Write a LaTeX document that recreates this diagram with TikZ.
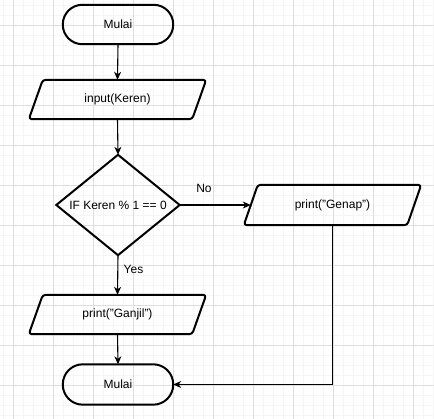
\documentclass[tikz,border=0pt]{standalone}
\usepackage{fontspec}
\setmainfont{Liberation Sans}
\usetikzlibrary{arrows.meta}
\definecolor{minorgrid}{RGB}{245,245,245}
\definecolor{majorgrid}{RGB}{222,222,222}
\tikzset{
  holder/.style={rectangle, inner sep=0pt, minimum width=#1, font=\fontsize{12}{14}\selectfont, text=black},
  shapeline/.style={draw=black, line width=2pt, line join=round},
  conn/.style={draw=black, line width=1.1pt, -{Stealth[length=8pt,width=7pt,inset=2.5pt]}},
  lbl/.style={font=\fontsize{12}{14}\selectfont, text=black, inner sep=0pt},
}
\begin{document}
\begin{tikzpicture}[x=1pt,y=-1pt]
\useasboundingbox (0,0) rectangle (434,419);
\fill[white] (0,0) rectangle (434,419);
% grid
\foreach \gx in {3,13,...,433} \draw[minorgrid, line width=0.8pt] (\gx,0) -- (\gx,419);
\foreach \gy in {5,15,...,415} \draw[minorgrid, line width=0.8pt] (0,\gy) -- (434,\gy);
\foreach \gx in {13,53,...,413} \draw[majorgrid, line width=0.8pt] (\gx,0) -- (\gx,419);
\foreach \gy in {25,65,...,385} \draw[majorgrid, line width=0.8pt] (0,\gy) -- (434,\gy);

% nodes
\node[holder=110pt, minimum height=39pt] (start) at (118,24.5) {Mulai};
\node[holder=177pt, minimum height=39pt] (inp) at (117.5,99.5) {input(Keren)};
\node[holder=123pt, minimum height=100pt] (dec) at (118,205) {IF Keren \% 1 == 0};
\node[holder=177pt, minimum height=40pt] (gen) at (332.5,205) {print("Genap")};
\node[holder=177pt, minimum height=39pt] (gan) at (117.5,314.5) {print("Ganjil")};
\node[holder=110pt, minimum height=40pt] (fin) at (118,384.5) {Mulai};

% shapes
\draw[shapeline, rounded corners=19.5pt] (start.south west) rectangle (start.north east);
\draw[shapeline, rounded corners=20pt] (fin.south west) rectangle (fin.north east);
\foreach \p in {inp,gan,gen}{
  \draw[shapeline, rounded corners=3pt] ([xshift=14pt]\p.north west) -- (\p.north east) -- ([xshift=-14pt]\p.south east) -- (\p.south west) -- cycle;
}
\draw[shapeline, line join=miter] (dec.north) -- (dec.east) -- (dec.south) -- (dec.west) -- cycle;

% connectors
\draw[conn] (start.south) -- (inp.north);
\draw[conn] (inp.south) -- (dec.north);
\draw[conn] (dec.east) -- ([xshift=7pt]gen.west);
\draw[conn] (dec.south) -- (gan.north);
\draw[conn] (gan.south) -- (fin.north);
\draw[conn] (gen.south) |- (fin.east);

% labels
\node[lbl] (no) at (204,188) {No};
\node[lbl] (yes) at (133.5,269) {Yes};
\end{tikzpicture}
\end{document}
